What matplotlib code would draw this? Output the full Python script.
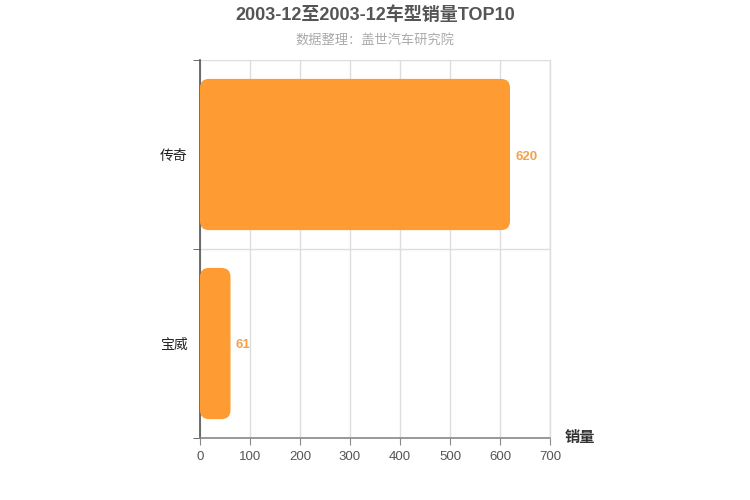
import matplotlib
matplotlib.use("Agg")
import matplotlib.pyplot as plt
from matplotlib.patches import FancyBboxPatch

plt.rcParams['font.family'] = ['Liberation Sans', 'Noto Sans CJK SC', 'DejaVu Sans']

categories = ['传奇', '宝威']
values = [620, 61]
xticks = [0, 100, 200, 300, 400, 500, 600, 700]
title = '2003-12至2003-12车型销量TOP10'
subtitle = '数据整理：盖世汽车研究院'
xlabel = '销量'

bar_color = '#FF9B33'
label_color = '#F5A04A'

fig = plt.figure(figsize=(7.5, 5), dpi=100)
ax = fig.add_axes([200/750, 62/500, 350/750, 378/500])

ax.set_xlim(0, 700)
ax.set_ylim(len(categories) - 0.5, -0.5)

h = 0.8
px_x = 700 / 350.0
px_y = len(categories) / 378.0
r = 9 * px_x
aspect = px_y / px_x
for i, v in enumerate(values):
    p = FancyBboxPatch((0, i - h/2), v, h,
                       boxstyle=f"round,pad=0,rounding_size={r}",
                       mutation_aspect=aspect,
                       facecolor=bar_color, edgecolor='none', zorder=3)
    ax.add_patch(p)
    ax.text(v + 5 * px_x, i + 2 * px_y, str(v), va='center', ha='left', color=label_color,
            fontsize=9.5, fontweight='semibold', zorder=4)

ax.set_xticks(xticks)
ax.set_xticklabels([str(t) for t in xticks], color='#555555', fontsize=9.5)
ax.set_yticks(range(len(categories)))
ax.set_yticklabels(categories, color='#222222', fontsize=10, fontweight='medium')
ax.tick_params(axis='y', which='major', length=0, pad=9)
ax.set_yticks([-0.5 + k for k in range(len(categories) + 1)], minor=True)
ax.tick_params(axis='y', which='minor', length=5, color='#555555')
ax.tick_params(axis='x', which='major', length=5, color='#888888', pad=4)

ax.grid(True, axis='x', color='#dddddd', linewidth=1, zorder=0)
ax.grid(True, axis='y', which='minor', color='#dddddd', linewidth=1, zorder=0)
ax.set_axisbelow(True)

ax.spines['top'].set_visible(False)
ax.spines['right'].set_color('#dddddd')
ax.spines['right'].set_linewidth(1)
ax.spines['left'].set_color('#555555')
ax.spines['bottom'].set_color('#888888')
ax.spines['left'].set_linewidth(1.2)
ax.spines['bottom'].set_linewidth(1.2)

fig.text(565/750, 1 - 438/500, xlabel, ha='left', va='center', fontsize=11,
         fontweight='bold', color='#333333')

fig.text(0.5, 1 - 15/500, title, ha='center', va='center', fontsize=13,
         fontweight='bold', color='#555555')
fig.text(0.5, 1 - 41/500, subtitle, ha='center', va='center', fontsize=9.5,
         fontweight='medium', color='#aaaaaa')

fig.savefig('out.png', dpi=100, facecolor='white')
